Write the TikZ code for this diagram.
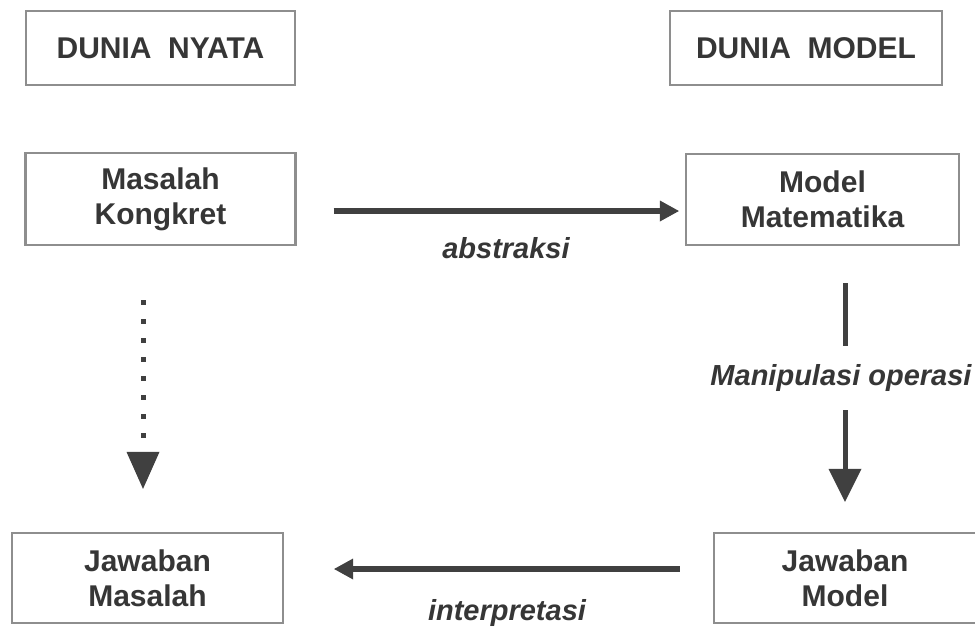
\documentclass[tikz,border=0pt]{standalone}
\usepackage{fontspec}
\setmainfont{Liberation Sans}
\usetikzlibrary{arrows.meta}
\definecolor{txt}{HTML}{363636}
\definecolor{frame}{HTML}{8E8E8E}
\definecolor{arr}{HTML}{404040}
\begin{document}
\begin{tikzpicture}[x=1pt,y=-1pt,
  box/.style={draw=frame,line width=2.2pt,text=txt,
    font=\fontsize{30}{35}\selectfont\bfseries,align=center,inner sep=0pt},
  lbl/.style={text=txt,font=\fontsize{29}{35}\selectfont\bfseries\itshape,inner sep=0pt},
  hconn/.style={draw=arr,line width=5.5pt,
    -{Triangle[length=19pt,width=21pt,line width=0pt]}},
  vconn/.style={draw=arr,line width=5pt,
    -{Triangle[length=33pt,width=33pt,line width=0pt]}},
  dconn/.style={draw=arr,line width=5pt,
    dash pattern=on 5pt off 14pt on 5pt off 14pt on 5pt off 14pt on 5pt off 14pt on 5pt off 14pt on 5pt off 14pt on 5pt off 14pt on 5pt off 40pt,
    -{Triangle[length=37pt,width=33pt,line width=0pt]}}
]
\useasboundingbox (0,0) rectangle (975,630);
\fill[white] (0,0) rectangle (975,630);

\node[box,minimum width=269pt,minimum height=74pt] (dn) at (160.5,48) {DUNIA\ \ NYATA};
\node[box,minimum width=272pt,minimum height=74pt] (dm) at (806,48) {DUNIA\ \ MODEL};
\node[box,minimum width=270pt,minimum height=92pt] (mk) at (160.5,199) {Masalah\\Kongkret};
\node[box,minimum width=273pt,minimum height=91pt] (mm) at (822.5,199.5) {Model\\Matematika};
\node[box,minimum width=271pt,minimum height=90pt] (jma) at (147.5,578) {Jawaban\\Masalah};
\node[box,minimum width=262pt,minimum height=90pt] (jmod) at (845,578) {Jawaban\\Model};

% abstraksi
\draw[hconn,shorten <=37pt,shorten >=6pt]
  ([yshift=-12pt]mk.east) -- ([yshift=-12pt]mk.east -| mm.west);
\node[lbl] (abs) at (506,248) {abstraksi};

% interpretasi
\draw[hconn,shorten <=33pt,shorten >=50pt]
  ([yshift=9pt]jmod.west) -- ([yshift=9pt]jmod.west -| jma.east);
\node[lbl] (int) at (507,613) {interpretasi};

% manipulasi operasi
\draw[vconn,shorten <=37pt,shorten >=30pt]
  (jmod.north |- mm.south) -- (jmod.north);
\node[lbl,fill=white,inner ysep=18pt] (man) at (841,378) {Manipulasi operasi};

% dotted
\draw[dconn,shorten <=54pt,shorten >=43pt]
  ([xshift=-4.5pt]jma.north |- mk.south) -- ([xshift=-4.5pt]jma.north);
\end{tikzpicture}
\end{document}
